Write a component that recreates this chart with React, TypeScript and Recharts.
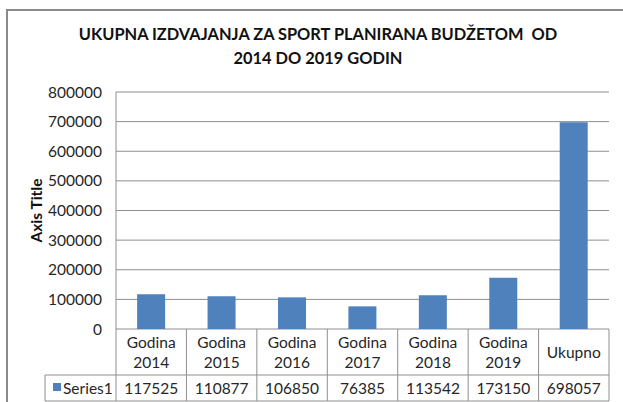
import React from 'react'
import { BarChart, Bar, XAxis, YAxis, CartesianGrid } from 'recharts'

const categories = ['Godina 2014', 'Godina 2015', 'Godina 2016', 'Godina 2017', 'Godina 2018', 'Godina 2019', 'Ukupno']
const series1 = [117525, 110877, 106850, 76385, 113542, 173150, 698057]
const yTicks = [0, 100000, 200000, 300000, 400000, 500000, 600000, 700000, 800000]
const seriesName = 'Series1'
const titleLines = ['UKUPNA IZDVAJANJA ZA SPORT PLANIRANA BUDŽETOM  OD', '2014 DO 2019 GODIN']

const data = categories.map((c, i) => ({ name: c, value: series1[i] }))

const W = 623
const H = 402
const xAxisHeight = 73
const margin = { top: 92, right: 14, bottom: 0, left: 46 }
const yAxisWidth = 70
const plotLeft = margin.left + yAxisWidth
const plotRight = W - margin.right
const plotBottom = H - xAxisHeight
const band = (plotRight - plotLeft) / categories.length
const rowSplit = 375
const tableBottom = 401
const gridColor = '#8e8e8e'
const font = 'Lato, "Open Sans", sans-serif'
const fs = 15.5
const textColor = '#262626'
const blue = '#4f81bd'

function TableTick(props: any) {
  const { x, payload, index } = props
  const left = x - band / 2
  const right = x + band / 2
  const words = String(payload.value).split(' ')
  return (
    <g>
      {index === 0 && (
        <g>
          <line x1={left} x2={left} y1={plotBottom} y2={tableBottom} stroke={gridColor} />
          <line x1={45} x2={left} y1={rowSplit} y2={rowSplit} stroke={gridColor} />
          <line x1={45} x2={left} y1={tableBottom} y2={tableBottom} stroke={gridColor} />
          <line x1={45} x2={45} y1={rowSplit} y2={tableBottom} stroke={gridColor} />
          <rect x={53} y={383} width={8} height={8} fill={blue} />
          <text x={63} y={394} fontSize={fs} fill={textColor} fontFamily={font}>{seriesName}</text>
        </g>
      )}
      <line x1={right} x2={right} y1={plotBottom} y2={tableBottom} stroke={gridColor} />
      <line x1={left} x2={right} y1={rowSplit} y2={rowSplit} stroke={gridColor} />
      <line x1={left} x2={right} y1={tableBottom} y2={tableBottom} stroke={gridColor} />
      {words.length > 1 ? (
        <text x={x} textAnchor="middle" fontSize={fs} fill={textColor} fontFamily={font}>
          <tspan x={x} y={348}>{words[0]}</tspan>
          <tspan x={x} y={368}>{words[1]}</tspan>
        </text>
      ) : (
        <text x={x} y={358} textAnchor="middle" fontSize={fs} fill={textColor} fontFamily={font}>{words[0]}</text>
      )}
      <text x={x} y={394} textAnchor="middle" fontSize={fs} fill={textColor} fontFamily={font}>
        {series1[index]}
      </text>
    </g>
  )
}

function AxisTitle(props: any) {
  const { viewBox } = props
  const cx = viewBox.x - 8
  const cy = viewBox.y + viewBox.height / 2
  return (
    <text x={cx} y={cy} transform={`rotate(-90 ${cx} ${cy})`} textAnchor="middle" dominantBaseline="middle"
      fontSize={15.5} fontWeight="bold" fill="#111" fontFamily={font}>
      Axis Title
    </text>
  )
}

export default function App() {
  return (
    <div style={{ position: 'absolute', left: 0, top: 0, width: W, height: H, overflow: 'hidden', background: '#fff' }}>
      <div style={{ position: 'absolute', left: 6, top: 9, width: W + 20, height: H + 20, borderLeft: '2px solid #8a8a8a', borderTop: '2px solid #8a8a8a' }} />
      <div style={{ position: 'absolute', left: 0, top: 22, width: 636, textAlign: 'center', fontFamily: font, fontWeight: 'bold', fontSize: 16.4, lineHeight: '24px', color: '#111', whiteSpace: 'pre' }}>
        {titleLines.map((l) => <div key={l}>{l}</div>)}
      </div>
      <div style={{ position: 'absolute', left: 0, top: 0 }}>
        <BarChart width={W} height={H} data={data} margin={margin} barCategoryGap="30%">
          <CartesianGrid vertical={false} stroke={gridColor} />
          <XAxis dataKey="name" axisLine={false} tickLine={false} tick={<TableTick />} interval={0} height={xAxisHeight} />
          <YAxis domain={[0, 800000]} ticks={yTicks} interval={0} width={yAxisWidth} axisLine={{ stroke: gridColor }} tickLine={false}
            tickMargin={8} tick={{ fontSize: fs, fill: textColor, fontFamily: font }} label={<AxisTitle />} />
          <Bar dataKey="value" fill={blue} isAnimationActive={false} />
        </BarChart>
      </div>
    </div>
  )
}
